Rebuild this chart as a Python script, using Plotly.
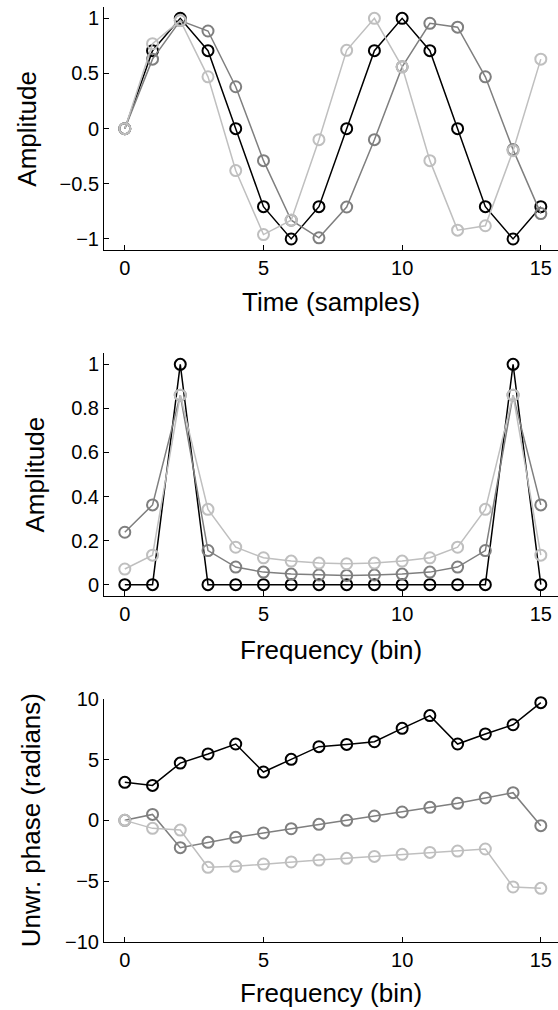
import plotly.graph_objects as go
from plotly.subplots import make_subplots

n = list(range(16))

# time domain (samples)
time_black = [0, 0.707, 1, 0.707, 0, -0.707, -1, -0.707, 0, 0.707, 1, 0.707, 0, -0.707, -1, -0.707]
time_dark = [0, 0.63, 0.98, 0.885, 0.38, -0.29, -0.83, -0.99, -0.71, -0.1, 0.56, 0.955, 0.92, 0.47, -0.19, -0.77]
time_light = [0, 0.77, 0.98, 0.47, -0.38, -0.96, -0.83, -0.1, 0.71, 1.0, 0.56, -0.29, -0.92, -0.88, -0.2, 0.63]

# magnitude spectrum
mag_black = [0, 0, 1, 0, 0, 0, 0, 0, 0, 0, 0, 0, 0, 0, 1, 0]
mag_dark = [0.238, 0.362, 0.86, 0.155, 0.08, 0.057, 0.048, 0.044, 0.042, 0.044, 0.048, 0.057, 0.08, 0.155, 0.86, 0.362]
mag_light = [0.071, 0.134, 0.86, 0.342, 0.17, 0.122, 0.107, 0.098, 0.095, 0.098, 0.107, 0.122, 0.17, 0.342, 0.86, 0.134]

# unwrapped phase
ph_black = [3.13, 2.88, 4.72, 5.47, 6.29, 3.98, 5.03, 6.07, 6.26, 6.48, 7.58, 8.63, 6.29, 7.12, 7.88, 9.70]
ph_dark = [0, 0.49, -2.25, -1.81, -1.40, -1.04, -0.69, -0.33, 0, 0.36, 0.69, 1.07, 1.40, 1.84, 2.28, -0.44]
ph_light = [0, -0.66, -0.8, -3.87, -3.79, -3.6, -3.43, -3.27, -3.13, -2.97, -2.8, -2.64, -2.53, -2.36, -5.49, -5.6]

colors = ["black", "#7f7f7f", "#bfbfbf"]
W, H = 558, 1010
FONT = "Liberation Sans, Arial, sans-serif"

fig = make_subplots(rows=3, cols=1)

panels = [
    (1, [time_black, time_dark, time_light]),
    (2, [mag_black, mag_dark, mag_light]),
    (3, [ph_black, ph_dark, ph_light]),
]
for row, series in panels:
    for ys, c in zip(series, colors):
        fig.add_trace(go.Scatter(
            x=n, y=ys, mode="lines+markers",
            line=dict(color=c, width=1.5),
            marker=dict(symbol="circle-open", size=11, color=c, line=dict(width=2)),
            showlegend=False, cliponaxis=False,
        ), row=row, col=1)

# pixel boxes of the three axes (top, bottom)
boxes = [(7.3, 250), (353.3, 595.7), (699, 941.7)]
yranges = [[-1.1, 1.1], [-0.05, 1.05], [-10, 10]]
yticks = [[-1, -0.5, 0, 0.5, 1], [0, 0.2, 0.4, 0.6, 0.8, 1], [-10, -5, 0, 5, 10]]
yticktext = [["−1", "−0.5", "0", "0.5", "1"], ["0", "0.2", "0.4", "0.6", "0.8", "1"], ["−10", "−5", "0", "5", "10"]]

axis_style = dict(showline=True, linecolor="black", linewidth=1, ticks="inside", ticklen=5,
                  tickcolor="black", tickwidth=1, showgrid=False, zeroline=False, mirror=False,
                  automargin=False, tickfont=dict(family=FONT, size=20, color="black"))

x_left = 104 / W
for i, (top, bot) in enumerate(boxes):
    r = i + 1
    fig.update_xaxes(domain=[x_left, 1], range=[-0.75, 15.62], tickvals=[0, 5, 10, 15],
                     row=r, col=1, **axis_style)
    fig.update_yaxes(domain=[1 - bot / H, 1 - top / H], range=yranges[i], tickvals=yticks[i],
                     ticktext=yticktext[i], row=r, col=1, **axis_style)

title_font = dict(family=FONT, size=26, color="black")
xtitles = ["Time (samples)", "Frequency (bin)", "Frequency (bin)"]
xtitle_y = [301.7, 650, 993.3]
ytitles = ["Amplitude", "Amplitude", "Unwr. phase (radians)"]
ytitle_x = [27, 34, 31]
for i, (top, bot) in enumerate(boxes):
    fig.add_annotation(text=xtitles[i], xref="paper", yref="paper", x=331 / W, y=1 - xtitle_y[i] / H,
                       showarrow=False, font=title_font, xanchor="center", yanchor="middle")
    fig.add_annotation(text=ytitles[i], xref="paper", yref="paper", x=ytitle_x[i] / W,
                       y=1 - (top + bot) / 2 / H, textangle=-90,
                       showarrow=False, font=title_font, xanchor="center", yanchor="middle")

fig.update_layout(width=W, height=H, margin=dict(l=0, r=0, t=0, b=0, pad=0),
                  paper_bgcolor="white", plot_bgcolor="white",
                  font=dict(family=FONT, color="black"))

fig.write_html("out.html", config={"displayModeBar": False},
               post_script="document.body.style.margin='0';")
